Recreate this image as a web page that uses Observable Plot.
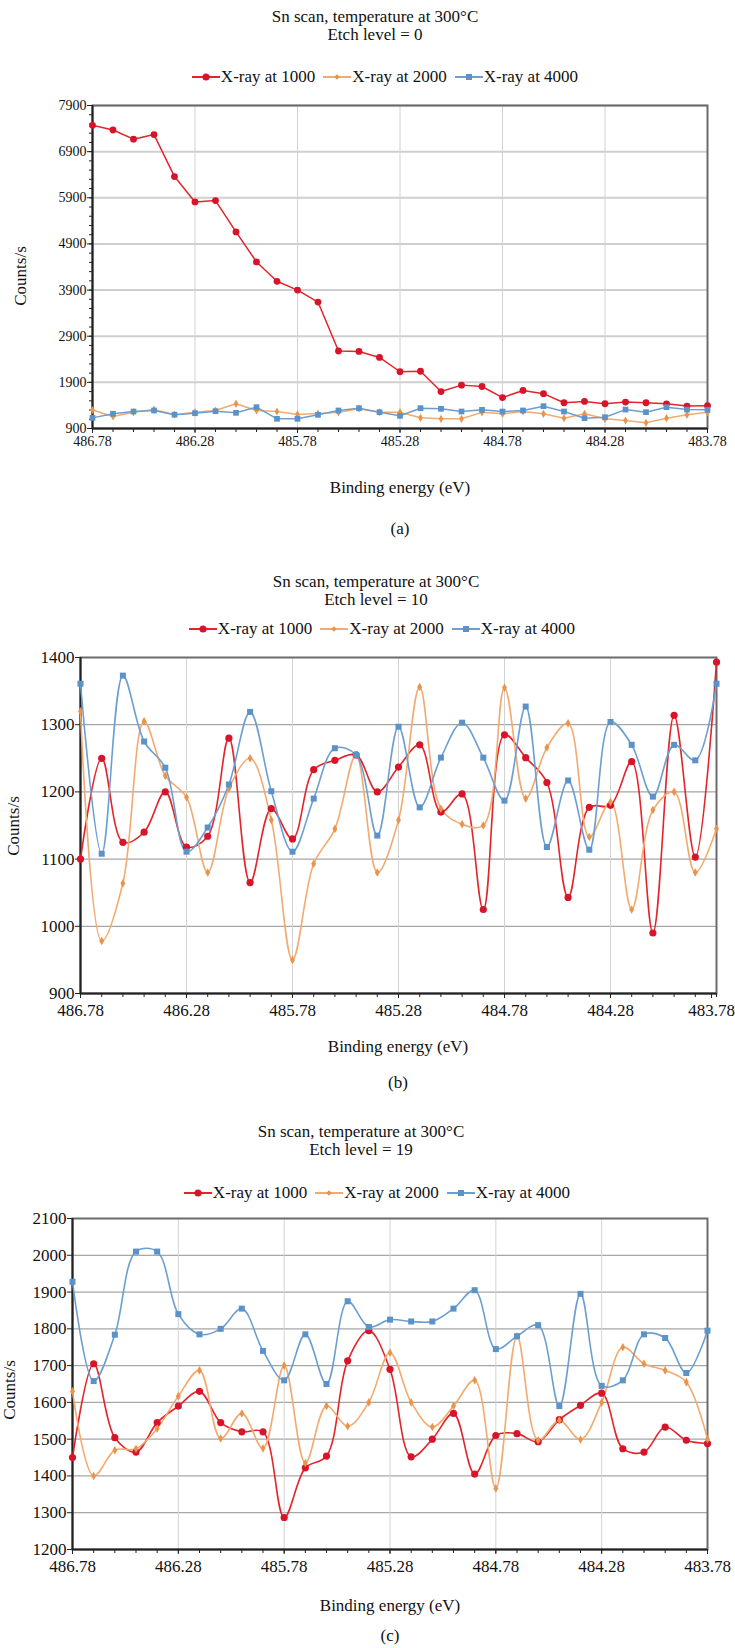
<!DOCTYPE html>
<html><head><meta charset="utf-8">
<script src="https://cdn.jsdelivr.net/npm/d3@7"></script>
<script src="https://cdn.jsdelivr.net/npm/@observablehq/plot@0.6"></script>
<style>
body{margin:0;background:#fff;}
#root{position:relative;width:735px;height:1648px;overflow:hidden;font-family:"Liberation Serif","Tinos","Times New Roman",serif;color:#111;background:#fff;}
.t{position:absolute;white-space:nowrap;text-align:center;line-height:20px;font-size:17px;width:600px;}
.ylab{position:absolute;font-size:17px;line-height:20px;white-space:nowrap;transform:translate(-50%,-50%) rotate(-90deg);}
.leg{position:absolute;display:flex;align-items:center;justify-content:center;font-size:17px;line-height:20px;white-space:nowrap;width:600px;height:20px;}
.leg .item{display:flex;align-items:center;margin:0 4px;}
.leg svg{margin-right:1px;}
.plotwrap{position:absolute;left:0;}
</style></head><body><div id="root"></div><script>
// ---- data ----
const energies = [486.78,486.68,486.58,486.48,486.38,486.28,486.18,486.08,485.98,485.88,485.78,485.68,485.58,485.48,485.38,485.28,485.18,485.08,484.98,484.88,484.78,484.68,484.58,484.48,484.38,484.28,484.18,484.08,483.98,483.88,483.78];
const xMajorTicks = [486.78,486.28,485.78,485.28,484.78,484.28,483.78];
const seriesNames = ["X-ray at 1000","X-ray at 2000","X-ray at 4000"];
const titleLine1 = "Sn scan, temperature at 300°C";
const etchLevels = ["Etch level = 0","Etch level = 10","Etch level = 19"];
const captions = ["(a)","(b)","(c)"];
const xTitle = "Binding energy (eV)";
const yTitle = "Counts/s";

// panel (a) etch level 0
const a1000 = [7470,7370,7170,7270,6360,5810,5840,5160,4510,4090,3900,3640,2580,2570,2440,2130,2140,1700,1840,1810,1570,1725,1655,1458,1487,1437,1472,1458,1434,1386,1395];
const a2000 = [1300,1160,1250,1310,1200,1250,1290,1435,1290,1268,1205,1225,1250,1330,1250,1254,1131,1110,1110,1250,1218,1268,1218,1124,1218,1110,1073,1023,1124,1196,1254];
const a4000 = [1130,1220,1268,1290,1200,1232,1275,1240,1362,1110,1110,1196,1290,1340,1254,1175,1340,1326,1268,1304,1268,1290,1384,1268,1124,1145,1310,1254,1362,1310,1304];
const aYTicks = [900,1900,2900,3900,4900,5900,6900,7900];

// panel (b) etch level 10
const b1000 = [1100,1250,1125,1140,1200,1118,1134,1280,1065,1175,1130,1233,1247,1255,1200,1237,1270,1170,1197,1025,1285,1251,1214,1043,1177,1180,1245,990,1314,1103,1393];
const b2000 = [1320,978,1064,1305,1224,1192,1080,1205,1250,1158,950,1093,1145,1255,1080,1158,1356,1175,1152,1150,1355,1190,1266,1302,1133,1185,1025,1173,1200,1080,1145];
const b4000 = [1361,1108,1373,1275,1236,1111,1147,1211,1319,1201,1111,1190,1265,1255,1135,1297,1177,1251,1303,1251,1187,1327,1118,1217,1114,1304,1270,1193,1270,1247,1361];
const bYTicks = [900,1000,1100,1200,1300,1400];

// panel (c) etch level 19
const c1000 = [1450,1705,1504,1465,1545,1590,1630,1545,1520,1520,1287,1422,1454,1713,1795,1690,1452,1500,1570,1405,1510,1515,1493,1553,1592,1625,1474,1465,1533,1497,1488];
const c2000 = [1630,1400,1470,1474,1529,1617,1687,1502,1570,1475,1700,1435,1590,1535,1600,1735,1600,1533,1590,1660,1366,1780,1497,1551,1499,1600,1750,1705,1687,1655,1500];
const c4000 = [1928,1658,1784,2010,2010,1840,1785,1800,1855,1740,1660,1785,1650,1875,1805,1825,1820,1820,1855,1905,1745,1780,1810,1590,1895,1645,1660,1785,1775,1680,1795];
const cYTicks = [1200,1300,1400,1500,1600,1700,1800,1900,2000,2100];

// ---- styles ----
const lineColors = ["#e3242b","#f2aa70","#6c9fd0"];
const dotColors = ["#d8142a","#e8944c","#5b93c9"];
const symbols = ["circle","diamond","square"];
const dotR = [3.6,2.6,3.4];

const root = document.getElementById("root");

function addText(cls, txt, cx, cy) {
  const d = document.createElement("div");
  d.className = cls;
  d.textContent = txt;
  if (cls === "ylab") { d.style.left = cx + "px"; d.style.top = cy + "px"; }
  else { d.style.left = (cx - 300) + "px"; d.style.top = (cy - 10) + "px"; }
  root.appendChild(d);
}

function addLegend(cx, cy) {
  const d = document.createElement("div");
  d.className = "leg";
  d.style.left = (cx - 300) + "px";
  d.style.top = (cy - 10) + "px";
  seriesNames.forEach((name, k) => {
    const it = document.createElement("span");
    it.className = "item";
    let mk = "";
    if (k === 0) mk = `<circle cx="14" cy="6" r="3.6" fill="${dotColors[0]}"/>`;
    if (k === 1) mk = `<path d="M14 3.2 L16.8 6 L14 8.8 L11.2 6Z" fill="${dotColors[1]}"/>`;
    if (k === 2) mk = `<rect x="11" y="3" width="6" height="6" fill="${dotColors[2]}"/>`;
    it.innerHTML = `<svg width="28" height="12"><line x1="0" y1="6" x2="28" y2="6" stroke="${lineColors[k]}" stroke-width="2"/>${mk}</svg><span>${name}</span>`;
    d.appendChild(it);
  });
  root.appendChild(d);
}

function makePanel(o) {
  const vals = o.values;
  const lastTick = xMajorTicks[xMajorTicks.length - 1];
  const marks = [
    Plot.gridY(o.yTicks, {stroke: o.hGrid, strokeOpacity: 1, strokeWidth: o.hGridW}),
    Plot.gridX(xMajorTicks, {stroke: "#d2d2d2", strokeOpacity: 1, strokeWidth: 1}),
    Plot.frame({stroke: "#6b6b6b", strokeWidth: 2}),
    Plot.ruleX([xMajorTicks[0]], {stroke: "#222", strokeWidth: 2}),
    Plot.ruleY([o.yDomain[0]], {stroke: "#222", strokeWidth: 2}),
    Plot.axisX(energies, {tickSize: 4, tickFormat: () => "", label: null, stroke: "#222"}),
    Plot.axisX(xMajorTicks.slice(0, -1), {tickSize: 5, tickPadding: o.xPad, tickFormat: d => d.toFixed(2), label: null, fontSize: o.fs, stroke: "#222"}),
    Plot.axisX([lastTick], {tickSize: 5, tickPadding: o.xPad, tickFormat: d => d.toFixed(2), label: null, fontSize: o.fs, stroke: "#222", dx: o.lastDx}),
    Plot.axisY(o.yTicks, {tickSize: 5, tickPadding: 1, tickFormat: d => String(d), label: null, fontSize: o.fs, stroke: "#222"})
  ];
  if (o.yMinor) marks.push(Plot.axisY(o.yMinor, {tickSize: 3, tickFormat: () => "", label: null, stroke: "#222"}));
  vals.forEach((arr, k) => {
    const data = arr.map((v, i) => ({x: energies[i], y: v}));
    marks.push(Plot.line(data, {x: "x", y: "y", stroke: lineColors[k], strokeWidth: o.lw, curve: o.curve}));
  });
  vals.forEach((arr, k) => {
    const data = arr.map((v, i) => ({x: energies[i], y: v}));
    marks.push(Plot.dot(data, {x: "x", y: "y", symbol: symbols[k], fill: dotColors[k], r: dotR[k] * o.rs, stroke: "none"}));
  });
  const p = Plot.plot({
    width: 735,
    height: o.height,
    marginLeft: o.mL,
    marginRight: o.mR,
    marginTop: 10,
    marginBottom: o.height - 10 - o.inner,
    x: {domain: [xMajorTicks[0], lastTick]},
    y: {domain: o.yDomain},
    style: {fontFamily: '"Liberation Serif","Tinos","Times New Roman",serif', fontSize: o.fs + "px", color: "#111", background: "transparent", overflow: "visible"},
    marks
  });
  const w = document.createElement("div");
  w.className = "plotwrap";
  w.style.top = o.top + "px";
  w.appendChild(p);
  root.appendChild(w);
}

// ---- panel (a) ----
addText("t", titleLine1, 375, 17);
addText("t", etchLevels[0], 375, 35);
addLegend(385, 77);
makePanel({top: 95, height: 373, inner: 323, mL: 92, mR: 28, yDomain: [900, 7900], yTicks: aYTicks,
  yMinor: d3.range(900, 7901, 200), values: [a1000, a2000, a4000], curve: "linear", fs: 14, xPad: 3, lastDx: 0,
  hGrid: "#cfcfcf", hGridW: 2, lw: 1.5, rs: 0.95});
addText("ylab", yTitle, 21, 276);
addText("t", xTitle, 400, 488);
addText("t", captions[0], 400, 529);

// ---- panel (b) ----
addText("t", titleLine1, 376, 582);
addText("t", etchLevels[1], 376, 600);
addLegend(382, 629);
makePanel({top: 647, height: 386, inner: 336, mL: 80, mR: 19, yDomain: [900, 1400], yTicks: bYTicks,
  values: [b1000, b2000, b4000], curve: "catmull-rom", fs: 17, xPad: 5, lastDx: -5,
  hGrid: "#a6a6a6", hGridW: 1.2, lw: 1.6, rs: 1});
addText("ylab", yTitle, 14, 826);
addText("t", xTitle, 398, 1047);
addText("t", captions[1], 398, 1083);

// ---- panel (c) ----
addText("t", titleLine1, 361, 1132);
addText("t", etchLevels[2], 361, 1150);
addLegend(377, 1193);
makePanel({top: 1208, height: 381, inner: 331, mL: 72, mR: 28, yDomain: [1200, 2100], yTicks: cYTicks,
  values: [c1000, c2000, c4000], curve: "catmull-rom", fs: 17, xPad: 5, lastDx: 0,
  hGrid: "#a6a6a6", hGridW: 1.2, lw: 1.6, rs: 1});
addText("ylab", yTitle, 10, 1390);
addText("t", xTitle, 390, 1606);
addText("t", captions[2], 390, 1636);
</script></body></html>
